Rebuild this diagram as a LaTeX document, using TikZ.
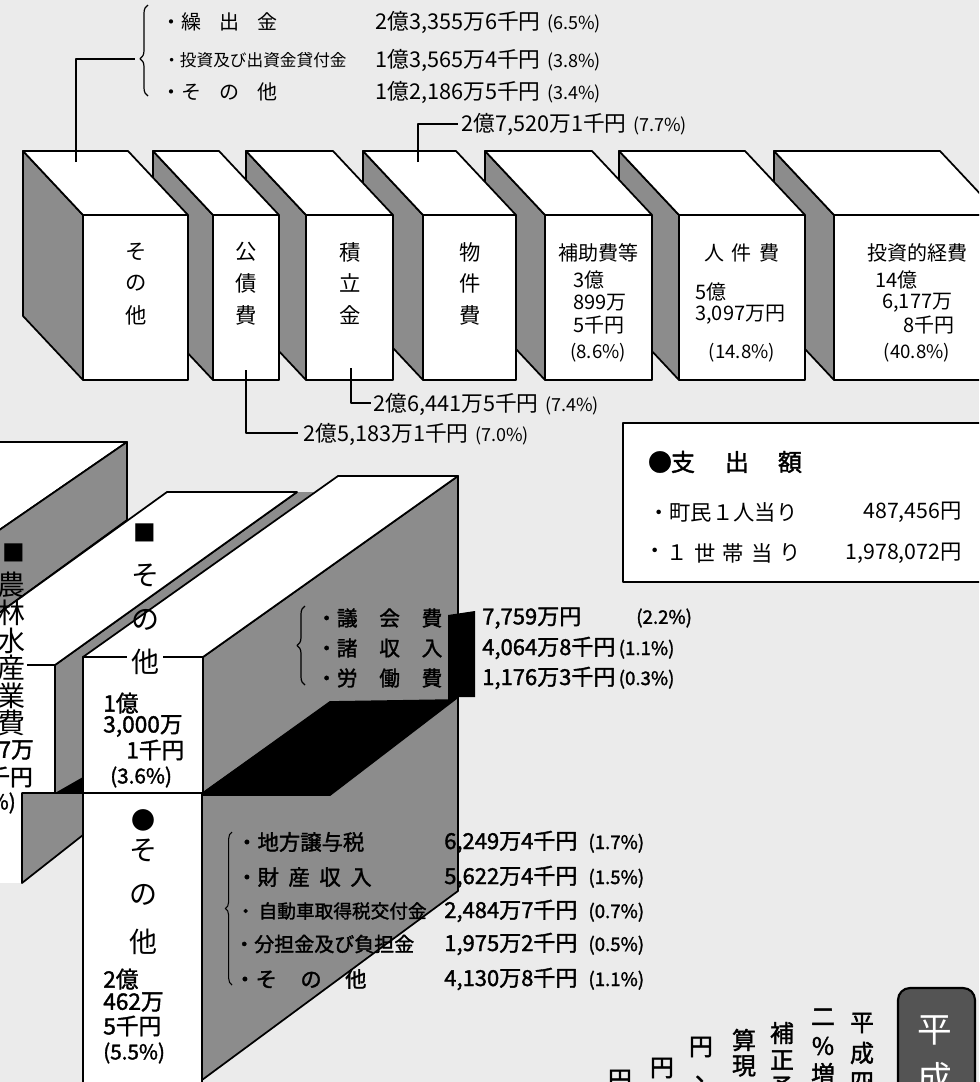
\documentclass[tikz,border=0pt]{standalone}
\usepackage{fontspec}
\usetikzlibrary{decorations.pathreplacing}
\setmainfont{Noto Sans CJK JP}
\newfontfamily\jp{Noto Sans CJK JP}
\newfontfamily\jpb{Noto Sans CJK JP}[FakeBold=1.6]
\newcommand{\fs}[1]{\fontsize{#1}{#1}\selectfont}
\begin{document}
\begin{tikzpicture}[x=0.75pt,y=-0.75pt,line join=round,
  face/.style={fill=white,draw=black,line width=1.3pt},
  side/.style={fill=black!45,draw=black,line width=1.3pt},
  conn/.style={draw=black,line width=1pt},
  lbl/.style={inner sep=0pt,anchor=west,font=\jp\fs{15}},
  val/.style={inner sep=0pt,anchor=west,font=\jp\fs{16.3}},
  ch/.style={inner sep=0pt,font=\jp\fs{16}},
  bn/.style={inner sep=0pt,anchor=west,font=\jp\fs{15}},
  bl/.style={inner sep=0pt,anchor=west,font=\jpb\fs{15.5}},
  bv/.style={inner sep=0pt,anchor=west,font=\jpb\fs{16.5}},
  big/.style={inner sep=0pt,font=\jp\fs{21}},
  amt/.style={inner sep=0pt,anchor=west,font=\jpb\fs{17}},
  vch/.style={inner sep=0pt,font=\jpb\fs{18}}]
\fill[black!8] (0,0) rectangle (979,1082);
\useasboundingbox (0,0) rectangle (979,1082);
\begin{scope}
\clip (0,0) rectangle (979,1082);
% ---------- top row of boxes (drawn right to left) ----------
\foreach \a/\b in {834/1000,679/805,545/652,423/516,306/393,213/279,83/188}{
  \draw[side] (\a,215) -- (\a-60,151) -- (\a-60,316) -- (\a,380) -- cycle;
  \draw[face] (\a,215) -- (\a-60,151) -- (\b-60,151) -- (\b,215) -- cycle;
  \draw[face] (\a,215) rectangle (\b,380);
}
% ---------- lower structure ----------
% back block (農林) top and right faces
\draw[face] (-5,442) -- (127,442) -- (-5,533) -- cycle;
\draw[side] (-5,533) -- (127,442) -- (127,520) -- (-5,616) -- cycle;
% middle block: right face sliver, top face, front face
\fill[black!45] (55,665) -- (297,492) -- (314,492) -- (83,657) -- (83,793) -- (55,793) -- cycle;
\draw[line width=1.3pt] (297,492) -- (55,665) -- (55,793);
\fill[black] (55,793) -- (83,793) -- (83,777) -- cycle;
\draw[face] (-5,616) -- (167,492) -- (297,492) -- (55,665) -- (-5,665) -- cycle;
\fill[white] (-5,665) rectangle (55,793);
\draw[line width=1.3pt] (-5,665) -- (55,665) -- (55,793);
% ■ その他 right face and top face
\draw[side] (203,657) -- (458,476) -- (458,700) -- (330,702) -- (203,793) -- cycle;
\draw[face] (83,657) -- (203,657) -- (458,476) -- (338,476) -- cycle;
% ● その他 right face
\draw[side] (202,795) -- (330,795) -- (458,697) -- (458,891) -- (202,1080) -- cycle;
% black band and bar
\fill[black] (203,795) -- (203,792) -- (330,702) -- (448,700) -- (448,615) -- (475,611) -- (475,697) -- (458,697) -- (330,795) -- cycle;
% front faces
\draw[face] (83,657) rectangle (203,793);
\draw[face] (83,793) rectangle (202,1095);
% lower-left ● block
\fill[white] (-5,793) rectangle (22,883);
\draw[side] (22,793) -- (83,793) -- (83,835) -- (22,883) -- cycle;
\draw[line width=1.3pt] (22,793) -- (22,883);

% ---------- connectors ----------
\coordinate (c1a) at (76,162);
\coordinate (c1b) at (76,59);
\coordinate (c1c) at (135,59);
\draw[conn] (c1a) -- (c1b) -- (c1c);
\draw[decorate,decoration={brace,amplitude=6pt,aspect=0.41},line width=0.9pt] (148,96) -- (148,5);
\coordinate (c4a) at (418,162);
\coordinate (c4b) at (418,124);
\coordinate (c4c) at (458,124);
\draw[conn] (c4a) -- (c4b) -- (c4c);
\coordinate (c3a) at (351,368);
\coordinate (c3b) at (351,403);
\coordinate (c3c) at (371,403);
\draw[conn] (c3a) -- (c3b) -- (c3c);
\coordinate (c2a) at (246,370);
\coordinate (c2b) at (246,433);
\coordinate (c2c) at (298,433);
\draw[conn] (c2a) -- (c2b) -- (c2c);

% ---------- top texts ----------
\node[lbl] (t1) at (161,22) {・繰\hspace{0.9em}出\hspace{0.9em}金};
\node[lbl,font=\jp\fs{12.5}] (t2) at (163,60) {・投資及び出資金貸付金};
\node[lbl] (t3) at (161,92) {・そ\hspace{0.9em}の\hspace{0.9em}他};
\node[val] (v1) at (375,22) {2億3,355万6千円\hspace{0.3em}{\fs{13.5}(6.5\%)}};
\node[val] (v2) at (375,60) {1億3,565万4千円\hspace{0.3em}{\fs{13.5}(3.8\%)}};
\node[val] (v3) at (375,92) {1億2,186万5千円\hspace{0.3em}{\fs{13.5}(3.4\%)}};
\node[val] (v4) at (461,124) {2億7,520万1千円\hspace{0.3em}{\fs{13.5}(7.7\%)}};
\node[val] (v5) at (373,404) {2億6,441万5千円\hspace{0.3em}{\fs{13.5}(7.4\%)}};
\node[val] (v6) at (303,434) {2億5,183万1千円\hspace{0.3em}{\fs{13.5}(7.0\%)}};

% box labels
\node[ch] (a1) at (136,252) {そ}; \node[ch] at (136,283) {の}; \node[ch] at (136,315) {他};
\node[ch] (a2) at (246,252) {公}; \node[ch] at (246,283) {債}; \node[ch] at (246,315) {費};
\node[ch] (a3) at (350,252) {積}; \node[ch] at (350,283) {立}; \node[ch] at (350,315) {金};
\node[ch] (a4) at (470,252) {物}; \node[ch] at (470,283) {件}; \node[ch] at (470,315) {費};
\node[ch,font=\jp\fs{15}] (a5) at (598,253) {補助費等};
\node[bn] at (573,280) {3億};
\node[bn] at (573,303) {899万};
\node[bn] at (573,325) {5千円};
\node[ch,font=\jp\fs{14}] at (598,353) {(8.6\%)};
\node[ch,font=\jp\fs{15}] (a6) at (742,253) {人\hspace{0.4em}件\hspace{0.4em}費};
\node[bn] at (695,292) {5億};
\node[bn] at (695,315) {3,097万円};
\node[ch,font=\jp\fs{14}] at (742,353) {(14.8\%)};
\node[ch,font=\jp\fs{15}] (a7) at (917,253) {投資的経費};
\node[bn] at (875,280) {14億};
\node[bn] at (882,303) {6,177万};
\node[bn] at (903,325) {8千円};
\node[ch,font=\jp\fs{14}] at (917,353) {(40.8\%)};

% ---------- 支出額 box ----------
\draw[fill=white,line width=1.6pt] (623,423) rectangle (1000,582);
\foreach \x/\c in {660/●,683/支,737/出,790/額}{
  \node[inner sep=0pt,font=\jpb\fs{18}] at (\x,462) {\c};
}
\node[inner sep=0pt,anchor=west,font=\jp\fs{16}] (h2) at (648,512) {・町民１人当り};
\node[inner sep=0pt,anchor=east,font=\jp\fs{16}] (h3) at (962,512) {487,456円};
\foreach \x/\c in {655/・,677/１,705/世,733/帯,762/当,790/り}{
  \node[inner sep=0pt,font=\jp\fs{16}] at (\x,553) {\c};
}
\node[inner sep=0pt,anchor=east,font=\jp\fs{16}] (h5) at (962,553) {1,978,072円};

% ---------- ■ その他 ----------
\node[big] at (145,533) {\fs{17}■};
\node[big] at (145,575) {そ};
\node[big] at (145,620) {の};
\node[big,fill=white,inner xsep=3pt] at (145,662) {他};
\node[amt] at (103,703) {1億};
\node[amt] at (103,726) {3,000万};
\node[amt] at (126,750) {1千円};
\node[amt,font=\jpb\fs{15.5}] at (110,777) {(3.6\%)};
% ■ 農林水産業費
\node[big,anchor=east] at (25,553) {\fs{17}■};
\node[big,anchor=east] at (26,585) {農};
\node[big,anchor=east] at (26,613) {林};
\node[big,anchor=east] at (26,641) {水};
\node[big,anchor=east,fill=white,inner xsep=1pt] at (27,668) {産};
\node[big,anchor=east] at (26,696) {業};
\node[big,anchor=east] at (26,723) {費};
\node[amt,anchor=east] at (34,750) {7万};
\node[amt,anchor=east] at (33,777) {千円};
\node[amt,anchor=east,font=\jpb\fs{15.5}] at (16,803) {\%)};
% ● その他
\node[big,font=\jp\fs{18}] at (143,820) {●};
\node[big] at (143,850) {そ};
\node[big] at (143,895) {の};
\node[big] at (143,942) {他};
\node[amt] at (103,979) {2億};
\node[amt] at (103,1002) {462万};
\node[amt] at (103,1026) {5千円};
\node[amt,font=\jpb\fs{15.5}] at (103,1053) {(5.5\%)};

% list upper
\draw[decorate,decoration={brace,amplitude=6pt},line width=0.9pt] (305,685) -- (305,606);
\node[bl] at (316,618) {・議\hspace{1.05em}会\hspace{1.05em}費};
\node[bl] at (316,648) {・諸\hspace{1.05em}収\hspace{1.05em}入};
\node[bl] at (316,678) {・労\hspace{1.05em}働\hspace{1.05em}費};
\node[bv] at (482,618) {7,759万円};
\node[bv,font=\jpb\fs{14}] at (636,618) {(2.2\%)};
\node[bv] at (482,648) {4,064万8千円\hspace{0.15em}{\fs{14}(1.1\%)}};
\node[bv] at (482,678) {1,176万3千円\hspace{0.15em}{\fs{14}(0.3\%)}};
% list lower
\draw[decorate,decoration={brace,amplitude=5pt},line width=0.8pt] (232,985) -- (232,832);
\node[bl,font=\jpb\fs{16}] at (236,842) {・地方譲与税};
\node[bl,font=\jpb\fs{16}] at (236,877) {・財\hspace{0.45em}産\hspace{0.45em}収\hspace{0.45em}入};
\node[bl,font=\jpb\fs{14}] at (236,911) {・\hspace{0.2em}自動車取得税交付金};
\node[bl,font=\jpb\fs{15}] at (234,944) {・分担金及び負担金};
\node[bl,font=\jpb\fs{16}] at (234,979) {・そ\hspace{1.1em}の\hspace{1.1em}他};
\node[bv] at (444,842) {6,249万4千円\hspace{0.5em}{\fs{14}(1.7\%)}};
\node[bv] at (444,877) {5,622万4千円\hspace{0.5em}{\fs{14}(1.5\%)}};
\node[bv] at (444,911) {2,484万7千円\hspace{0.5em}{\fs{14}(0.7\%)}};
\node[bv] at (444,944) {1,975万2千円\hspace{0.5em}{\fs{14}(0.5\%)}};
\node[bv] at (444,979) {4,130万8千円\hspace{0.5em}{\fs{14}(1.1\%)}};

% ---------- bottom right vertical text ----------
\draw[fill=black!67,line width=1.6pt,rounded corners=9pt] (898,1100) -- (898,988) -- (975,988) -- (975,1100);
\node[inner sep=0pt,font=\jp\fs{26},text=white] at (935,1030) {平};
\node[inner sep=0pt,font=\jp\fs{26},text=white] at (935,1078) {成};
\node[vch] at (862,1023) {平}; \node[vch] at (862,1053) {成}; \node[vch] at (862,1082) {四};
\node[vch] at (823,1017) {二}; \node[vch] at (823,1046) {\%}; \node[vch] at (823,1074) {増};
\node[vch] at (782,1033) {補}; \node[vch] at (782,1060) {正}; \node[vch] at (782,1087) {予};
\node[vch] at (744,1040) {算}; \node[vch] at (744,1066) {現};
\node[vch] at (701,1047) {円}; \node[vch] at (707,1079) {、};
\node[vch] at (662,1068) {円};
\node[vch] at (620,1080) {円};
\end{scope}
\end{tikzpicture}
\end{document}
